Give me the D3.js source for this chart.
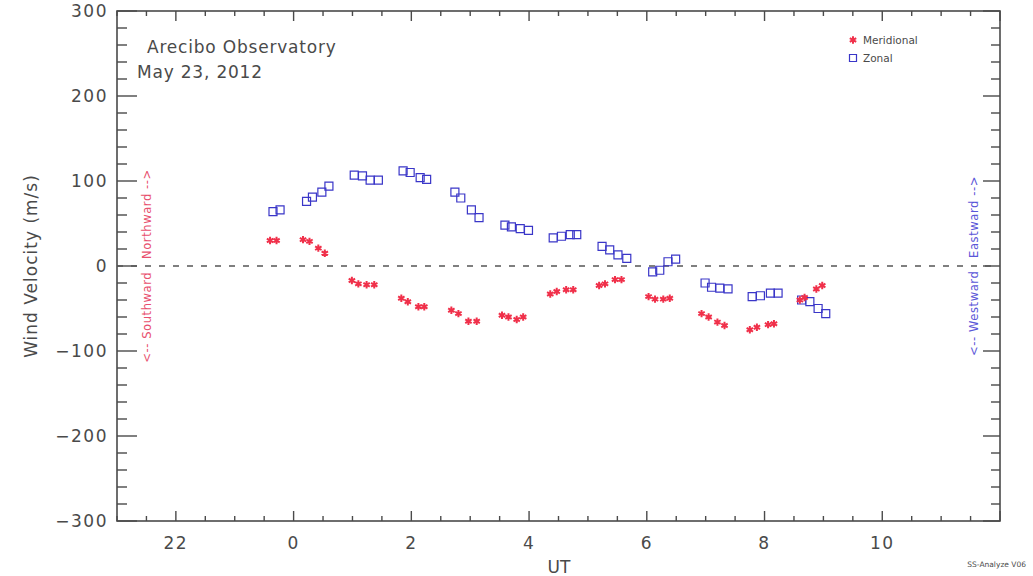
<!DOCTYPE html>
<html>
<head>
<meta charset="utf-8">
<script src="https://cdn.jsdelivr.net/npm/d3@7"></script>
<style>
  body { margin: 0; background: #fff; }
  svg text { font-family: "DejaVu Sans", sans-serif; fill: #4a4a4a; }
</style>
</head>
<body>
<div id="chart"></div>
<script>
// meridional wind (m/s) vs universal time (hours, before 0 = previous day)
var merUT  = [-0.40, -0.29, 0.16, 0.27, 0.42, 0.53,
              0.99, 1.10, 1.24, 1.37, 1.83, 1.94, 2.12, 2.22,
              2.68, 2.80, 2.97, 3.11, 3.54, 3.65, 3.79, 3.90,
              4.36, 4.47, 4.63, 4.75, 5.19, 5.29, 5.46, 5.57,
              6.03, 6.14, 6.28, 6.39, 6.93, 7.05, 7.20, 7.32,
              7.75, 7.87, 8.06, 8.16, 8.60, 8.68, 8.88, 8.98];
var merVel = [30, 30, 31, 29, 21, 15,
              -17, -21, -22, -22, -38, -42, -48, -48,
              -52, -56, -65, -65, -58, -60, -63, -60,
              -33, -30, -28, -28, -23, -21, -16, -16,
              -36, -39, -39, -38, -56, -60, -66, -70,
              -75, -72, -69, -68, -40, -37, -27, -23];

// zonal wind
var zonUT  = [-0.35, -0.23, 0.22, 0.32, 0.48, 0.60,
              1.03, 1.17, 1.30, 1.44, 1.86, 1.98, 2.15, 2.26,
              2.74, 2.84, 3.02, 3.15, 3.59, 3.70, 3.85, 3.99,
              4.41, 4.55, 4.70, 4.81, 5.24, 5.37, 5.51, 5.66,
              6.10, 6.22, 6.36, 6.49, 6.99, 7.10, 7.24, 7.38,
              7.79, 7.93, 8.10, 8.23, 8.63, 8.77, 8.91, 9.04];
var zonVel = [64, 66, 76, 81, 87, 94,
              107, 106, 101, 101, 112, 110, 104, 102,
              87, 80, 66, 57, 48, 46, 44, 42,
              33, 35, 37, 37, 23, 19, 13, 9,
              -7, -5, 5, 8, -20, -25, -26, -27,
              -36, -35, -32, -32, -40, -42, -50, -56];

var xTicks = [-2, 0, 2, 4, 6, 8, 10];
var xTickLabels = ["22", "0", "2", "4", "6", "8", "10"];
var yTicks = [-300, -200, -100, 0, 100, 200, 300];

var width = 1033, height = 576;
var pLeft = 117, pRight = 1000, pTop = 11, pBottom = 521;

var svg = d3.select("#chart").append("svg")
  .attr("width", width)
  .attr("height", height);

var x = d3.scaleLinear().domain([-3, 12]).range([pLeft, pRight]);
var y = d3.scaleLinear().domain([-300, 300]).range([pBottom, pTop]);

var axisColor = "#4a4a4a";

// frame
svg.append("rect")
  .attr("x", pLeft).attr("y", pTop)
  .attr("width", pRight - pLeft).attr("height", pBottom - pTop)
  .attr("fill", "none").attr("stroke", axisColor).attr("stroke-width", 1.6);

// ticks on all four sides, IDL style (inward)
var xMinor = d3.range(-3, 12.01, 0.5);
var yMinor = d3.range(-300, 300.1, 20);

function isMajorX(v) { return Math.abs(v % 2) < 1e-6; }
function isMajorY(v) { return Math.abs(v % 100) < 1e-6; }

var tickG = svg.append("g").attr("stroke", axisColor).attr("stroke-width", 1.4);

xMinor.forEach(function(v) {
  var len = isMajorX(v) ? 10 : 5;
  tickG.append("line").attr("x1", x(v)).attr("x2", x(v)).attr("y1", pBottom).attr("y2", pBottom - len);
  tickG.append("line").attr("x1", x(v)).attr("x2", x(v)).attr("y1", pTop).attr("y2", pTop + len);
});
yMinor.forEach(function(v) {
  var lenL = isMajorY(v) ? 20 : 10;
  var lenR = isMajorY(v) ? 17 : 9;
  tickG.append("line").attr("x1", pLeft).attr("x2", pLeft + lenL).attr("y1", y(v)).attr("y2", y(v));
  tickG.append("line").attr("x1", pRight).attr("x2", pRight - lenR).attr("y1", y(v)).attr("y2", y(v));
});

// tick labels
svg.selectAll(".xlab").data(xTicks).enter().append("text")
  .attr("class", "xlab")
  .attr("x", function(d) { return x(d); })
  .attr("y", 549)
  .attr("text-anchor", "middle")
  .attr("font-size", 17)
  .attr("letter-spacing", 1.5)
  .text(function(d, i) { return xTickLabels[i]; });

svg.selectAll(".ylab").data(yTicks).enter().append("text")
  .attr("class", "ylab")
  .attr("x", 108)
  .attr("y", function(d) { return y(d) + 6; })
  .attr("text-anchor", "end")
  .attr("font-size", 17)
  .attr("letter-spacing", 1.5)
  .text(function(d) { return String(d).replace("-", "\u2212"); });

// axis titles
svg.append("text")
  .attr("transform", "translate(37," + y(0) + ") rotate(-90)")
  .attr("text-anchor", "middle")
  .attr("font-size", 17)
  .attr("letter-spacing", 1)
  .text("Wind Velocity (m/s)");

svg.append("text")
  .attr("x", 559).attr("y", 573)
  .attr("text-anchor", "middle")
  .attr("font-size", 17)
  .text("UT");

svg.append("text")
  .attr("x", 1026).attr("y", 567)
  .attr("text-anchor", "end")
  .attr("font-size", 7.5)
  .text("SS-Analyze V06");

// station and date
svg.append("text")
  .attr("x", 147).attr("y", 53)
  .attr("font-size", 17)
  .attr("letter-spacing", 0.8)
  .text("Arecibo Observatory");
svg.append("text")
  .attr("x", 137).attr("y", 78)
  .attr("font-size", 17)
  .attr("letter-spacing", 0.8)
  .text("May 23, 2012");

// direction hints beside the axes
var merColor = "#f0304a", zonColor = "#3a36c8";
svg.append("text")
  .attr("transform", "translate(151," + y(0) + ") rotate(-90)")
  .attr("text-anchor", "middle")
  .attr("font-size", 11.5)
  .attr("letter-spacing", 0.6)
  .style("fill", "#e8506e")
  .style("white-space", "pre")
  .text("<-- Southward   Northward -->");
svg.append("text")
  .attr("transform", "translate(978," + y(0) + ") rotate(-90)")
  .attr("text-anchor", "middle")
  .attr("font-size", 11.5)
  .attr("letter-spacing", 0.6)
  .style("fill", "#5a56d8")
  .style("white-space", "pre")
  .text("<-- Westward   Eastward -->");

// zero line
svg.append("line")
  .attr("x1", pLeft).attr("x2", pRight)
  .attr("y1", y(0)).attr("y2", y(0))
  .attr("stroke", "#555").attr("stroke-width", 1.5)
  .attr("stroke-dasharray", "6,8");

var star = d3.symbol().type(d3.symbolAsterisk).size(38);
var square = d3.symbol().type(d3.symbolSquare).size(64);

var zonal = zonUT.map(function(t, i) { return {t: t, v: zonVel[i]}; });
var merid = merUT.map(function(t, i) { return {t: t, v: merVel[i]}; });

svg.selectAll(".zon").data(zonal).enter().append("path")
  .attr("class", "zon")
  .attr("d", square)
  .attr("transform", function(d) { return "translate(" + x(d.t) + "," + y(d.v) + ")"; })
  .attr("fill", "none")
  .attr("stroke", zonColor)
  .attr("stroke-width", 1.2);

svg.selectAll(".mer").data(merid).enter().append("path")
  .attr("class", "mer")
  .attr("d", star)
  .attr("transform", function(d) { return "translate(" + x(d.t) + "," + y(d.v) + ")"; })
  .attr("fill", "none")
  .attr("stroke", merColor)
  .attr("stroke-width", 2);

// legend
var lg = svg.append("g").attr("transform", "translate(853,40)");
lg.append("path").attr("d", star).attr("fill", "none").attr("stroke", merColor).attr("stroke-width", 2);
lg.append("text").attr("x", 10).attr("y", 4).attr("font-size", 10.5).text("Meridional");
lg.append("path").attr("d", d3.symbol().type(d3.symbolSquare).size(49)).attr("transform", "translate(0,18)")
  .attr("fill", "none").attr("stroke", zonColor).attr("stroke-width", 1.2);
lg.append("text").attr("x", 10).attr("y", 22).attr("font-size", 10.5).text("Zonal");
</script>
</body>
</html>
